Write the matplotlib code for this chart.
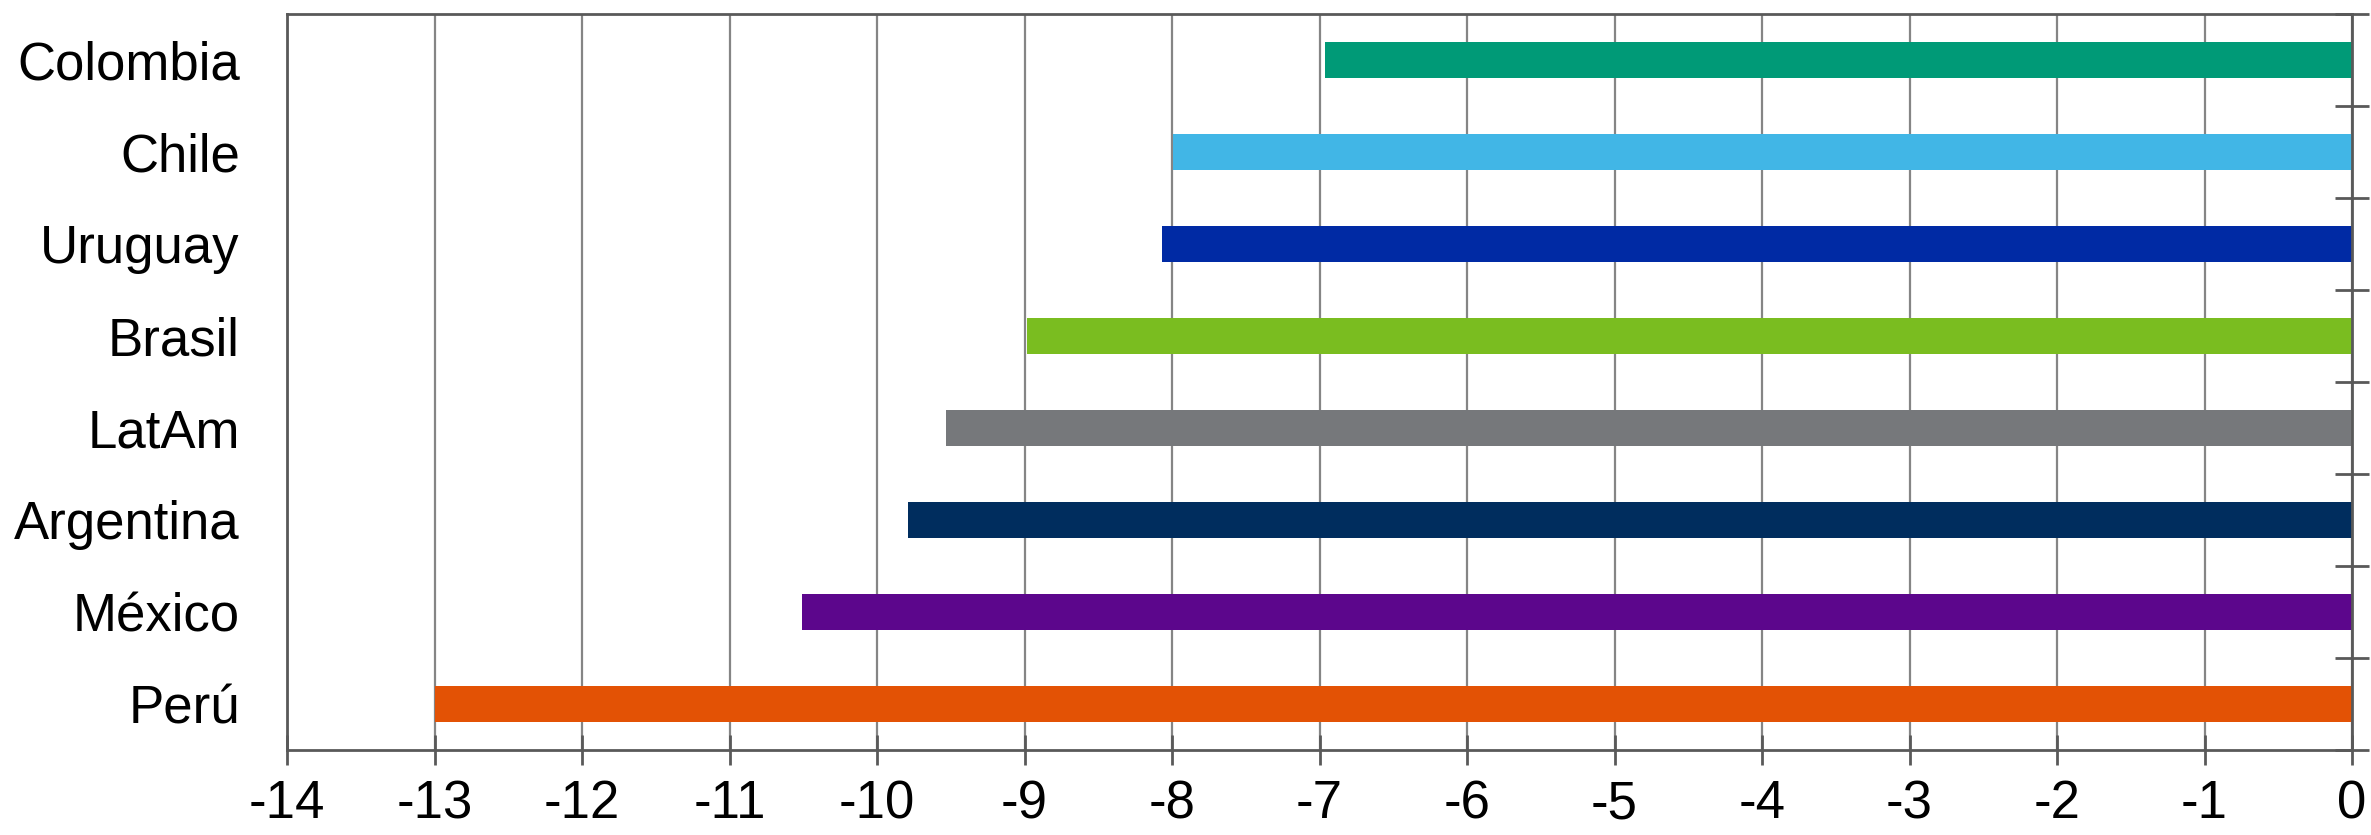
import matplotlib
matplotlib.use("Agg")
import matplotlib.pyplot as plt
import numpy as np

categories = ["Perú", "México", "Argentina", "LatAm", "Brasil", "Uruguay", "Chile", "Colombia"]
values = [-13.0, -10.51, -9.79, -9.53, -8.98, -8.07, -7.99, -6.96]
colors = ["#E35205", "#5C068C", "#002D5E", "#76787B", "#7ABD20", "#002AA4", "#41B6E6", "#009A77"]
xticks = list(range(-14, 1))

plt.rcParams['font.family'] = ['Liberation Sans', 'DejaVu Sans']

fig = plt.figure(figsize=(23.71, 8.35), dpi=100)
ax = fig.add_axes([287/2371, 1 - 750/835, (2352-287)/2371, (750-14)/835])

y = np.arange(len(categories))
ax.barh(y, values, height=0.4, color=colors, zorder=2)

ax.set_xlim(-14, 0)
ax.set_ylim(-0.5, len(categories) - 0.5)
ax.set_xticks(xticks)
ax.set_xticklabels([str(t) for t in xticks])
ax.set_yticks(y)
ax.set_yticklabels(categories)
ax.set_yticks(np.arange(-0.5, len(categories)), minor=True)

ax.grid(axis='x', color='#858585', linewidth=1.6, zorder=1)
ax.set_axisbelow(True)

for s in ax.spines.values():
    s.set_color('#595959')
    s.set_linewidth(2.0)
    s.set_zorder(3)

ax.tick_params(axis='x', which='major', direction='inout', length=22, width=2.0,
               color='#595959', labelsize=38, pad=10)
ax.tick_params(axis='y', which='major', length=0, labelsize=38, pad=34)
ax.tick_params(axis='y', which='minor', left=False, right=True, direction='inout',
               length=24, width=2.0, color='#595959')

fig.savefig("out.png", dpi=100)
